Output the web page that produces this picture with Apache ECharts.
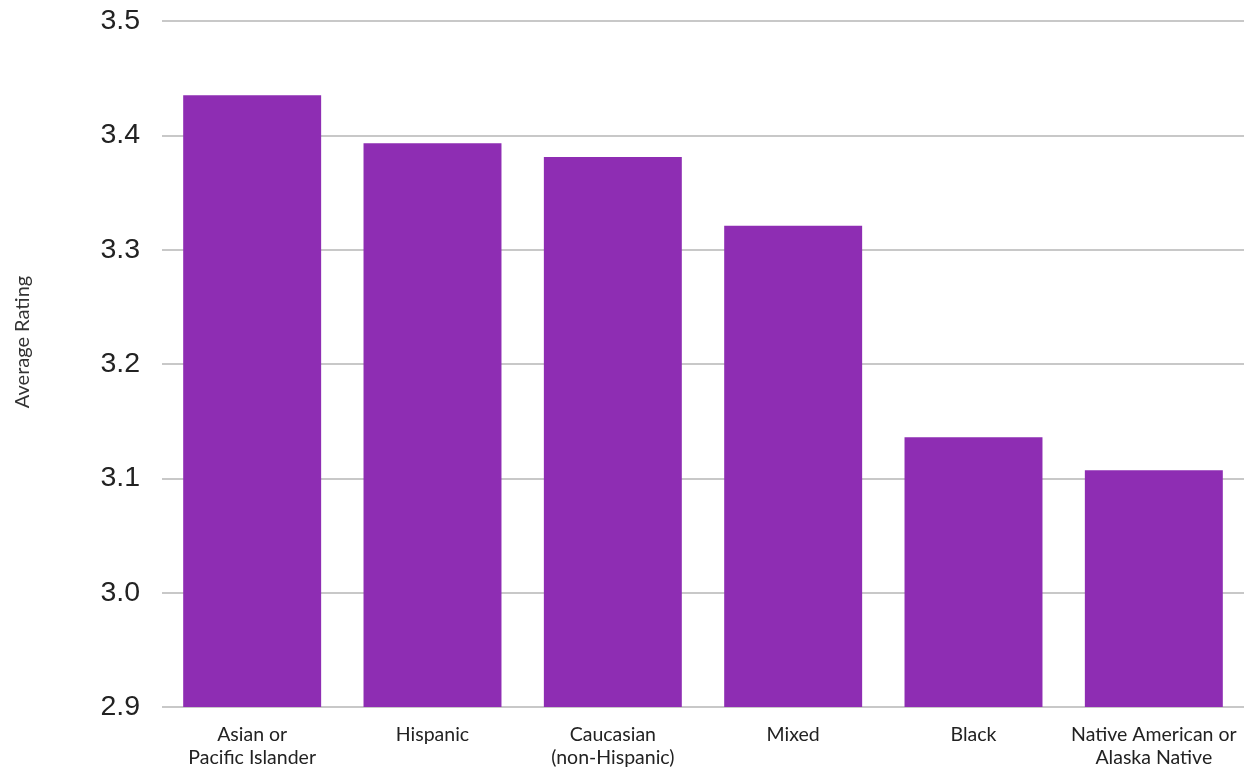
<!DOCTYPE html>
<html>
<head>
<meta charset="utf-8">
<script src="https://cdn.jsdelivr.net/npm/echarts@6/dist/echarts.min.js"></script>
<style>
html,body{margin:0;padding:0;background:#fff;}
#chart{width:1255px;height:772px;}
</style>
</head>
<body>
<div id="chart"></div>
<script>
const categories = ['Asian or\nPacific Islander', 'Hispanic', 'Caucasian\n(non-Hispanic)', 'Mixed', 'Black', 'Native American or\nAlaska Native'];
const ratings = [3.435, 3.393, 3.381, 3.321, 3.136, 3.107];
const yMin = 2.9, yMax = 3.5, yStep = 0.1;

const chart = echarts.init(document.getElementById('chart'));
chart.setOption({
  animation: false,
  grid: { left: 162, right: 11, top: 21, bottom: 65, containLabel: false },
  xAxis: {
    type: 'category',
    data: categories,
    axisLine: { show: false },
    axisTick: { show: false },
    axisLabel: { color: '#222', fontFamily: 'Lato', fontSize: 19.5, lineHeight: 23, margin: 16, interval: 0 }
  },
  yAxis: {
    type: 'value',
    min: yMin, max: yMax, interval: yStep,
    name: 'Average Rating',
    nameLocation: 'middle',
    nameGap: 129,
    nameTextStyle: { color: '#333', fontFamily: 'Lato', fontSize: 20, padding: [0, 0, 0, 44] },
    axisLine: { show: false },
    axisTick: { show: false },
    axisLabel: { color: '#222', fontFamily: 'Liberation Sans', fontSize: 28.5, margin: 22, formatter: v => v.toFixed(1) },
    splitLine: { lineStyle: { color: '#c8c8c8', width: 2 } }
  },
  series: [{
    type: 'bar',
    data: ratings,
    barCategoryGap: '23.5%',
    itemStyle: { color: '#8e2db3' }
  }]
});
</script>
</body>
</html>
